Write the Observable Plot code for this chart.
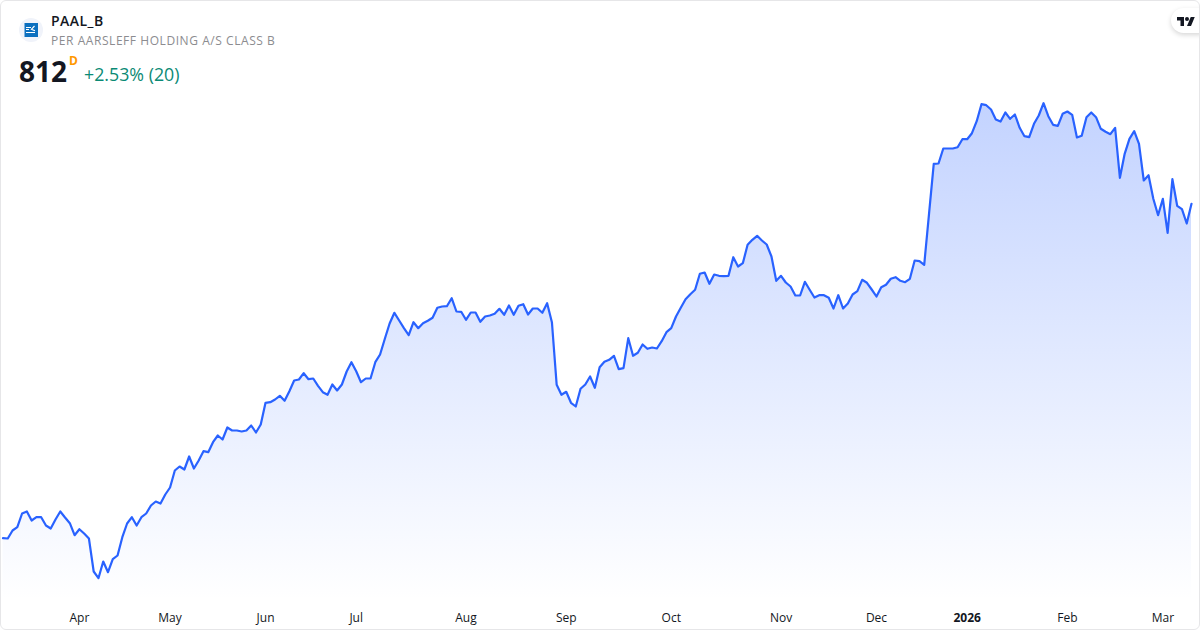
<!DOCTYPE html>
<html>
<head>
<meta charset="utf-8">
<script src="https://cdn.jsdelivr.net/npm/d3@7"></script>
<script src="https://cdn.jsdelivr.net/npm/@observablehq/plot@0.6"></script>
<style>
html,body{margin:0;padding:0;background:#fff;}
#card{position:relative;width:1200px;height:630px;overflow:hidden;font-family:"Open Sans",sans-serif;background:#fff;}
#chart{position:absolute;left:0;top:0;}
#frame{position:absolute;left:0;top:0;width:1200px;height:630px;box-sizing:border-box;border:1px solid #e6e6e8;border-radius:6px;pointer-events:none;}
#icon{position:absolute;left:19px;top:18px;}
.t{position:absolute;white-space:nowrap;line-height:1;}
#sym{left:51px;top:14px;font-size:14px;font-weight:600;color:#131722;letter-spacing:.45px;}
#desc{left:51px;top:35px;font-size:12px;color:#8c8c90;letter-spacing:.56px;}
#last{left:19px;top:57px;font-size:28px;font-weight:700;color:#131722;}
#res{left:69px;top:55px;font-size:12px;font-weight:700;color:#ff9800;}
#chg{left:84px;top:66px;font-size:17.8px;color:#0b8a75;}
#badge{position:absolute;left:1171px;top:8px;width:40px;height:25px;background:#fff;border-radius:13px;box-shadow:0 2px 5px rgba(0,0,0,.16);}
#tv{position:absolute;left:1177px;top:15px;}
</style>
</head>
<body>
<div id="card">
<div id="chart"></div>
<svg id="icon" width="24" height="24" viewBox="0 0 24 24">
<circle cx="12" cy="12" r="12" fill="#f0f3fa"/>
<rect x="5.5" y="5" width="13.5" height="14" fill="#0b6fbf"/>
<path d="M7 9.5h5M7 11.5h3M7 14.5h9M15.5 8l-3 3.2 3.5 1.6" stroke="#fff" stroke-width="1.2" fill="none"/>
</svg>
<div class="t" id="sym">PAAL_B</div>
<div class="t" id="desc">PER AARSLEFF HOLDING A/S CLASS B</div>
<div class="t" id="last">812</div>
<div class="t" id="res">D</div>
<div class="t" id="chg">+2.53% (20)</div>
<div id="badge"></div>
<svg id="tv" width="18" height="14" viewBox="0 0 36 28"><path fill="#131722" d="M14 22H7V11H0V4h14v18zM28 22h-8l7.5-18h8L28 22z"/><circle cx="20" cy="8" r="4" fill="#131722"/></svg>
<div id="frame"></div>
</div>
<script>
const closes = [
477.3,477,485,488.3,502,504,495,498.3,498.3,490,487,496,504,498,492.3,480.3,486.3,482,477,444,437.3,454,443.3,456.3,460,478.3,492,498.3,490,498.3,
502,510,514,512,521,528,545,549,546,559,547,555,564.3,563.3,573.3,580,576,588,585,585,584,585,590,583,591,612.7,613.3,616,619.7,614.7,624.3,635,636,642.3,
636.3,637,629.7,623.3,620.7,631,625,631,644,653.3,644.3,633.3,637,637,653.3,661,676.7,692,702.7,695,687.3,680.3,693.3,687.3,692.3,694.7,697.7,707.7,709,709.3,717.3,704,703.7,695.7,703,703,
693.7,699,700,701.7,706.7,700.7,710,700.7,709.7,711.3,701,707,707,702.7,712.3,693.3,630.7,620.7,623.7,612.7,609,626.7,631,639,627.7,648.3,
653.7,655.7,659.7,646.3,647.3,677.3,659.7,662.7,671,666.7,668,667,674.3,683.3,687.3,699,707.7,716.3,721.3,725.7,741.7,743,731.7,741,739.7,739.3,739.7,758.3,749,752.3,
770.7,775.7,779.7,775,771,759,734.7,739.7,733,729,720,720,733.7,725.7,718,720.3,720.3,717.7,707,720.3,707,712,721,724.3,735.7,732.7,726,719,728.3,730.7,736.7,738.3,734.7,733.3,736.7,
755,754.3,750.7,801.2,851.7,852,867,867,867,868.3,876.3,876.3,882.3,894.3,911.3,910.3,906,896,894,903,896.7,901,887.7,879.3,878.3,891.7,900,912.3,899.3,890.7,889.7,901.7,904,900.7,
878,879.7,898.3,903,898.3,886.7,883.7,881.3,887.7,837.7,861.7,876.7,884.3,871.7,835,840.3,816.7,800.3,816.7,782.7,836.3,809.7,806.3,792,811.7
];
const tickBars = [16,35,55,74,97,118,140,163,183,223,243];
const tickLabels = ["Apr","May","Jun","Jul","Aug","Sep","Oct","Nov","Dec","Feb","Mar"];
const yearBars = [202];
const yearLabels = ["2026"];
const bars = closes.map((c,i)=>({i,c}));

const defs = () => {
  const s = d3.create("svg:defs");
  const g = s.append("linearGradient").attr("id","areaFill").attr("x1",0).attr("x2",0).attr("y1",0).attr("y2",1);
  g.append("stop").attr("offset","0%").attr("stop-color","#2962ff").attr("stop-opacity",0.28);
  g.append("stop").attr("offset","100%").attr("stop-color","#2962ff").attr("stop-opacity",0);
  return s.node();
};
const labelOf = (keys,labels) => d => labels[keys.indexOf(d)];
const axisStyle = {anchor:"bottom",tickSize:0,tickPadding:13,fontSize:12,label:null,stroke:"none"};

const plot = Plot.plot({
  width:1200,height:630,
  marginTop:0,marginRight:0,marginBottom:30,marginLeft:0,
  style:{fontFamily:'"Open Sans",sans-serif',background:"transparent",color:"#131722"},
  x:{type:"linear",domain:[0,249],range:[2.5,1191]},
  y:{type:"linear",domain:[415,1015],axis:null},
  marks:[
    defs,
    Plot.areaY(bars,{x:"i",y1:415,y2:"c",fill:"url(#areaFill)",curve:"linear"}),
    Plot.lineY(bars,{x:"i",y:"c",stroke:"#2962ff",strokeWidth:2.2,curve:"linear",strokeLinejoin:"round"}),
    Plot.axisX(tickBars,{...axisStyle,tickFormat:labelOf(tickBars,tickLabels)}),
    Plot.axisX(yearBars,{...axisStyle,fontWeight:700,tickFormat:labelOf(yearBars,yearLabels)})
  ]
});
document.getElementById("chart").appendChild(plot);
</script>
</body>
</html>
